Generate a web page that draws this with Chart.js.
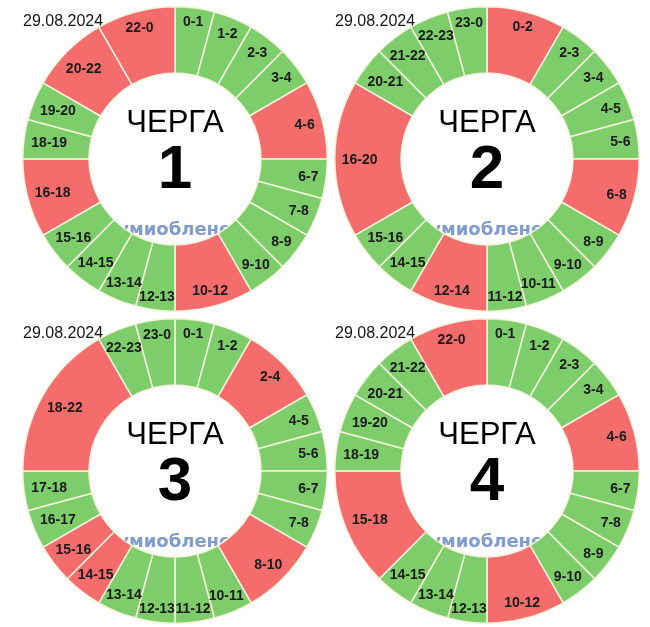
<!DOCTYPE html>
<html>
<head>
<meta charset="utf-8">
<script src="https://cdn.jsdelivr.net/npm/chart.js@4.4.1/dist/chart.umd.min.js"></script>
<style>
  html, body { margin: 0; padding: 0; background: #fff; }
  #wrap { position: relative; width: 650px; height: 627px; overflow: hidden; }
  .cell { position: absolute; width: 316px; height: 316px; }
</style>
</head>
<body>
<div id="wrap">
  <div class="cell" style="left:17px;top:1px"><canvas id="q1" width="316" height="316"></canvas></div>
  <div class="cell" style="left:329px;top:1px"><canvas id="q2" width="316" height="316"></canvas></div>
  <div class="cell" style="left:17px;top:313px"><canvas id="q3" width="316" height="316"></canvas></div>
  <div class="cell" style="left:329px;top:313px"><canvas id="q4" width="316" height="316"></canvas></div>
</div>
<script>
var GREEN = '#7dcd6b';
var RED = '#f46c6c';
var EDGE = '#f4f2dc';

var DATE = '29.08.2024';
var WATERMARK = 'Сумиобленерго';
var TITLE = 'ЧЕРГА';

// queue 1
var q1Labels = ['0-1', '1-2', '2-3', '3-4', '4-6', '6-7', '7-8', '8-9', '9-10', '10-12',
  '12-13', '13-14', '14-15', '15-16', '16-18', '18-19', '19-20', '20-22', '22-0'];
var q1Hours = [1, 1, 1, 1, 2, 1, 1, 1, 1, 2, 1, 1, 1, 1, 2, 1, 1, 2, 2];
var q1Off = [0, 0, 0, 0, 1, 0, 0, 0, 0, 1, 0, 0, 0, 0, 1, 0, 0, 1, 1];

// queue 2
var q2Labels = ['0-2', '2-3', '3-4', '4-5', '5-6', '6-8', '8-9', '9-10', '10-11', '11-12',
  '12-14', '14-15', '15-16', '16-20', '20-21', '21-22', '22-23', '23-0'];
var q2Hours = [2, 1, 1, 1, 1, 2, 1, 1, 1, 1, 2, 1, 1, 4, 1, 1, 1, 1];
var q2Off = [1, 0, 0, 0, 0, 1, 0, 0, 0, 0, 1, 0, 0, 1, 0, 0, 0, 0];

// queue 3
var q3Labels = ['0-1', '1-2', '2-4', '4-5', '5-6', '6-7', '7-8', '8-10', '10-11', '11-12',
  '12-13', '13-14', '14-15', '15-16', '16-17', '17-18', '18-22', '22-23', '23-0'];
var q3Hours = [1, 1, 2, 1, 1, 1, 1, 2, 1, 1, 1, 1, 1, 1, 1, 1, 4, 1, 1];
var q3Off = [0, 0, 1, 0, 0, 0, 0, 1, 0, 0, 0, 0, 1, 1, 0, 0, 1, 0, 0];

// queue 4
var q4Labels = ['0-1', '1-2', '2-3', '3-4', '4-6', '6-7', '7-8', '8-9', '9-10', '10-12',
  '12-13', '13-14', '14-15', '15-18', '18-19', '19-20', '20-21', '21-22', '22-0'];
var q4Hours = [1, 1, 1, 1, 2, 1, 1, 1, 1, 2, 1, 1, 1, 3, 1, 1, 1, 1, 2];
var q4Off = [0, 0, 0, 0, 1, 0, 0, 0, 0, 1, 0, 0, 0, 1, 0, 0, 0, 0, 1];

// date + watermark go under the ring
var underlay = {
  id: 'underlay',
  beforeDatasetsDraw: function (chart) {
    var arc = chart.getDatasetMeta(0).data[0];
    if (!arc) return;
    var ctx = chart.ctx;
    var cx = arc.x, cy = arc.y;
    ctx.save();
    ctx.fillStyle = '#151515';
    ctx.font = '16px "Liberation Sans", Arial, sans-serif';
    ctx.textAlign = 'left';
    ctx.textBaseline = 'alphabetic';
    ctx.fillText(DATE, cx - 152, cy - 133);
    ctx.fillStyle = '#819cce';
    ctx.font = 'bold 18px "DejaVu Sans", sans-serif';
    ctx.fillText(WATERMARK, cx - 71, cy + 76);
    ctx.restore();
  }
};

// hour labels on the ring + queue title in the hole
var ringText = {
  id: 'ringText',
  afterDatasetsDraw: function (chart, args, opts) {
    var meta = chart.getDatasetMeta(0);
    var ctx = chart.ctx;
    var labels = chart.data.labels;
    ctx.save();
    ctx.fillStyle = '#1b1b1b';
    ctx.font = 'bold 14px "Liberation Sans", Arial, sans-serif';
    ctx.textAlign = 'center';
    ctx.textBaseline = 'middle';
    meta.data.forEach(function (el, i) {
      var p = el.getProps(['x', 'y', 'startAngle', 'endAngle', 'outerRadius'], true);
      var mid = (p.startAngle + p.endAngle) / 2;
      var c = Math.cos(mid), s = Math.sin(mid);
      var w = ctx.measureText(labels[i]).width;
      var r = p.outerRadius - 7 - Math.abs(c) * w / 2 - Math.abs(s) * 5;
      ctx.fillText(labels[i], p.x + c * r, p.y + s * r + 1);
    });
    var arc = meta.data[0];
    ctx.fillStyle = '#000';
    ctx.textBaseline = 'alphabetic';
    ctx.font = '31px "Liberation Sans", Arial, sans-serif';
    ctx.fillText(TITLE, arc.x, arc.y - 27);
    ctx.font = 'bold 62px "Liberation Sans", Arial, sans-serif';
    ctx.fillText(opts.num, arc.x, arc.y + 29);
    ctx.restore();
  }
};

function makeQueue(id, num, labels, hours, off) {
  var ctx = document.getElementById(id);
  return new Chart(ctx, {
    type: 'doughnut',
    data: {
      labels: labels,
      datasets: [{
        data: hours,
        backgroundColor: off.map(function (o) { return o ? RED : GREEN; }),
        borderColor: EDGE,
        borderWidth: 1.5,
        hoverOffset: 0
      }]
    },
    options: {
      responsive: false,
      animation: false,
      cutout: '56.5%',
      layout: { padding: 5 },
      events: [],
      plugins: {
        legend: { display: false },
        tooltip: { enabled: false },
        ringText: { num: num }
      }
    },
    plugins: [underlay, ringText]
  });
}

makeQueue('q1', '1', q1Labels, q1Hours, q1Off);
makeQueue('q2', '2', q2Labels, q2Hours, q2Off);
makeQueue('q3', '3', q3Labels, q3Hours, q3Off);
makeQueue('q4', '4', q4Labels, q4Hours, q4Off);
</script>
</body>
</html>
